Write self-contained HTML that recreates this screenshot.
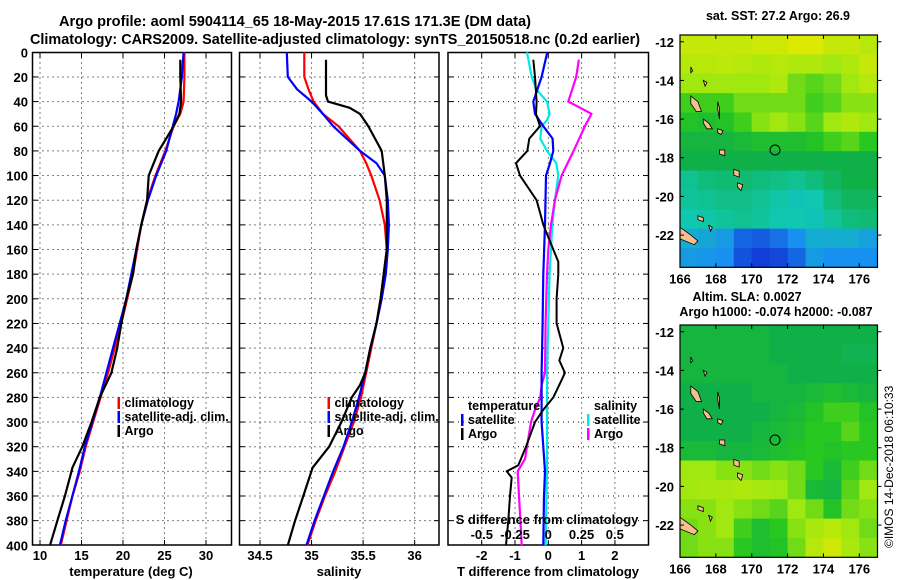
<!DOCTYPE html>
<html><head><meta charset="utf-8">
<style>
html,body{margin:0;padding:0;background:#fff;}
svg{display:block;font-family:"Liberation Sans",Arial,sans-serif;font-weight:bold;}
</style></head>
<body>
<svg id="fig" width="900" height="580" viewBox="0 0 900 580" xmlns="http://www.w3.org/2000/svg">
<rect x="0" y="0" width="900" height="580" fill="#fff"/>
<text x="295" y="26" text-anchor="middle" font-size="15" textLength="472" lengthAdjust="spacingAndGlyphs">Argo profile: aoml 5904114_65 18-May-2015 17.61S 171.3E (DM data)</text>
<text x="335" y="44" text-anchor="middle" font-size="15" textLength="610" lengthAdjust="spacingAndGlyphs">Climatology: CARS2009. Satellite-adjusted climatology: synTS_20150518.nc (0.2d earlier)</text>
<g id="plots"></g>
</svg>
<script>
// ---------- data ----------
const depthTick = [0,20,40,60,80,100,120,140,160,180,200,220,240,260,280,300,320,340,360,380,400];
const tempTicks = [10,15,20,25,30];
const salTicks = [34.5,35,35.5,36];
const tdiffTicks = [-2,-1,0,1,2];
const sdiffTicks = [-0.5,-0.25,0,0.25,0.5];
const sdiffLabels = ['-0.5','-0.25','0','0.25','0.5'];

const argoTDepth = [6,20,40,50,60,70,80,90,100,120,140,160,180,200,220,240,260,280,300,320,337,340,360,380,400];
const argoTemp  = [26.9,26.9,27.0,26.8,26.1,25.2,24.3,23.7,23.1,22.9,22.2,21.6,21.2,20.4,19.8,19.3,18.6,17.2,16.2,15.1,13.9,13.8,13.0,12.1,11.2];
const climDepth = [0,20,40,50,60,80,100,120,140,160,180,200,220,240,260,280,300,320,340,360,380,400];
const climTemp  = [27.4,27.4,27.3,26.9,26.1,25.1,23.9,22.9,22.2,21.7,21.2,20.5,19.8,19.0,18.2,17.3,16.4,15.5,14.8,13.9,13.2,12.5];
const satTemp   = [27.3,27.1,26.7,26.4,26.0,25.2,24.0,23.0,22.2,21.6,21.0,20.4,19.6,18.8,18.0,17.2,16.3,15.4,14.7,13.9,13.1,12.4];

const argoSDepth = [6,35,40,45,50,60,80,100,120,140,160,180,200,220,240,260,270,280,300,320,337,360,380,400];
const argoSal  = [35.14,35.14,35.16,35.37,35.47,35.55,35.68,35.71,35.73,35.73,35.73,35.70,35.67,35.63,35.57,35.52,35.47,35.39,35.29,35.17,35.01,34.92,34.84,34.77];
const climSDepth = [0,20,30,40,50,60,80,90,100,120,140,160,180,200,220,240,260,280,300,320,340,360,380,400];
const climSal  = [34.93,34.93,34.97,35.02,35.11,35.26,35.47,35.53,35.58,35.66,35.71,35.73,35.70,35.67,35.63,35.58,35.53,35.48,35.41,35.32,35.23,35.13,35.04,34.96];
const satSal   = [34.76,34.77,34.86,35.0,35.11,35.21,35.47,35.63,35.71,35.74,35.75,35.74,35.72,35.68,35.63,35.57,35.52,35.46,35.39,35.31,35.21,35.12,35.03,34.95];

const argoTdDepth = [6,20,40,50,60,70,80,90,100,120,130,140,160,170,180,200,220,240,250,260,266,280,290,300,320,335,340,345,360,380,400];
const argoTdiff = [-0.45,-0.4,-0.35,-0.37,-0.25,-0.57,-0.63,-0.97,-0.85,-0.35,-0.25,-0.15,0.15,0.3,0.3,0.25,0.25,0.45,0.33,0.5,0.4,0.15,-0.15,-0.4,-0.67,-0.9,-1.25,-1.1,-1.15,-1.2,-1.27];
const satTdDepth = [0,20,40,50,60,70,80,90,100,140,180,220,260,300,340,360,400];
const satTdiff = [-0.03,-0.2,-0.45,-0.4,-0.15,0.13,0.15,0.05,-0.07,-0.1,-0.15,-0.17,-0.2,-0.2,-0.1,-0.13,-0.15];
const satSdDepth = [0,20,30,40,50,55,60,70,80,90,100,120,140,180,220,260,300,340,400];
const satSdiff = [-0.16,-0.125,-0.09,-0.01,0.01,-0.01,-0.05,-0.06,-0.01,0.06,0.075,0.05,0.03,0.01,0,-0.01,-0.01,-0.01,-0.02];
const argoSdDepth = [6,20,40,45,50,60,80,100,120,140,160,180,220,260,270,280,290,300,320,330,340,360,380,400];
const argoSdiff = [0.23,0.21,0.15,0.24,0.325,0.275,0.19,0.1,0.05,0.02,0,-0.01,-0.02,-0.025,-0.05,-0.06,-0.1,-0.13,-0.16,-0.175,-0.23,-0.22,-0.21,-0.2];

const lonTicks = [166,168,170,172,174,176];
const latTicks = [-12,-14,-16,-18,-20,-22];
const sstGrid = [
 [4.5,4.5,4.5,4.5,4.6,4.6,4.8,4.8,4.5,4.5,4.3],
 [4.3,4.3,4.4,4.3,4.2,4.3,4.2,4.2,4.0,4.2,4.5],
 [4.0,4.0,4.0,4.0,4.0,4.2,3.8,3.7,3.8,4.0,4.3],
 [3.6,3.6,3.6,3.8,3.8,3.8,3.8,3.6,3.7,3.9,3.9],
 [3.4,3.3,3.4,3.6,3.9,4.0,3.9,3.7,4.0,4.2,4.0],
 [3.1,3.1,3.1,3.2,3.3,3.3,3.3,3.4,3.6,3.7,3.5],
 [3.0,3.0,3.0,3.0,3.0,3.0,3.0,3.0,3.0,3.0,3.0],
 [2.3,2.5,2.6,2.6,2.5,2.4,2.3,2.5,2.8,3.0,3.0],
 [2.2,2.3,2.4,2.4,2.3,2.1,1.9,2.0,2.5,2.8,2.8],
 [2.0,2.1,2.2,2.3,2.2,2.0,2.0,1.9,2.2,2.5,2.6],
 [1.5,1.4,1.2,0.6,0.5,0.7,1.0,1.5,1.5,1.5,1.3],
 [1.2,1.1,1.0,0.4,0.2,0.3,0.6,1.2,1.0,1.0,1.0]];
const slaGrid = [
 [3.1,3.1,3.1,3.1,3.1,3.0,3.0,3.0,3.0,3.0,3.0],
 [3.1,3.1,3.1,3.1,3.1,3.0,3.0,3.0,3.0,2.9,2.9],
 [3.1,3.1,3.1,3.1,3.1,3.1,3.0,3.0,3.0,3.0,3.0],
 [3.0,3.0,3.0,3.0,3.1,3.1,3.1,3.2,3.3,3.2,3.1],
 [3.0,3.0,3.0,3.0,3.0,3.1,3.2,3.4,3.6,3.6,3.4],
 [3.0,3.0,3.0,3.0,3.1,3.2,3.3,3.5,3.5,3.7,3.5],
 [3.2,3.2,3.1,3.1,3.2,3.3,3.4,3.5,3.4,3.5,3.5],
 [4.0,4.0,3.9,3.9,3.8,3.9,3.8,3.5,3.2,3.6,3.8],
 [4.0,4.1,4.1,4.2,4.1,4.0,3.8,3.2,3.1,3.7,4.0],
 [3.9,3.9,4.0,3.9,3.8,3.7,4.0,3.8,3.4,3.8,3.9],
 [3.8,3.9,4.0,3.6,3.3,3.5,3.9,4.1,4.3,4.0,3.8],
 [3.8,3.9,3.9,3.5,3.3,3.4,3.8,4.3,4.6,4.1,3.9]];
const profileLon = 171.3, profileLat = -17.6;

// ---------- helpers ----------
const NS='http://www.w3.org/2000/svg';
const root=document.getElementById('plots');
function mk(tag,attrs,parent){const e=document.createElementNS(NS,tag);for(const k in attrs)e.setAttribute(k,attrs[k]);(parent||root).appendChild(e);return e;}
function txt(s,x,y,anchor,size,parent){const t=mk('text',{x:x,y:y,'text-anchor':anchor,'font-size':size},parent);t.textContent=s;return t;}

const yTop=52.5,yBot=545;
const yD=d=>52.3+d*1.2325;
const xT=v=>40+(v-10)*8.3;
const xS=v=>260+(v-34.5)*103.1;
const xTd=v=>548.3+v*33.3;
const xSd=v=>548.3+v*133;

function frame(x0,x1,gridXs,name){
  const g=mk('g',{});
  
  
  depthTick.forEach(d=>{
    if(d===0||d===400)return;
    const l=mk('line',{x1:x0,x2:x1,y1:yD(d),y2:yD(d),stroke:'#000','stroke-width':1,'stroke-dasharray':'1,4'},g);
    
    
    mk('line',{x1:x0,x2:x0+5,y1:yD(d),y2:yD(d),stroke:'#000'},g);
    mk('line',{x1:x1-5,x2:x1,y1:yD(d),y2:yD(d),stroke:'#000'},g);
  });
  gridXs.forEach(x=>{
    const l=mk('line',{x1:x,x2:x,y1:yTop,y2:yBot,stroke:'#000','stroke-width':1,'stroke-dasharray':'1,4'},g);
    
    
    mk('line',{x1:x,x2:x,y1:yTop,y2:yTop+5,stroke:'#000'},g);
    mk('line',{x1:x,x2:x,y1:yBot-5,y2:yBot,stroke:'#000'},g);
  });
  const r=mk('rect',{x:x0,y:yTop,width:x1-x0,height:yBot-yTop,fill:'none',stroke:'#000','stroke-width':1.5},g);
  
  
  return g;
}
function series(xs,ds,xf,color,name,w){
  const pts=xs.map((v,i)=>xf(v).toFixed(1)+','+yD(ds[i]).toFixed(1)).join(' ');
  const p=mk('polyline',{points:pts,fill:'none',stroke:color,'stroke-width':w||2.2,'stroke-linejoin':'round'});
  
  
}

// Panel 1 temperature
frame(32.5,231.5,tempTicks.map(xT),'temperature-panel');
depthTick.forEach(d=>{const t=txt(String(d),28,yD(d)+5,'end',13);});
tempTicks.forEach(v=>{const t=txt(String(v),xT(v),560,'middle',13);});
{const t=txt('temperature (deg C)',131,576,'middle',13);}
series(climTemp,climDepth,xT,'#f00','temp-climatology-line');
series(satTemp,climDepth,xT,'#00f','temp-satellite-line');
series(argoTemp,argoTDepth,xT,'#000','temp-argo-line');

// Panel 2 salinity
frame(239.5,439,salTicks.map(xS),'salinity-panel');
salTicks.forEach(v=>{const t=txt(String(v),xS(v),560,'middle',13);});
{const t=txt('salinity',339,576,'middle',13);}
series(climSal,climSDepth,xS,'#f00','sal-climatology-line');
series(satSal,climSDepth,xS,'#00f','sal-satellite-line');
series(argoSal,argoSDepth,xS,'#000','sal-argo-line');

// legends for panel 1 and 2
function legend(x,items,name){
  const g=mk('g',{});
  
  
  items.forEach((it,i)=>{
    const y=407+i*14;
    mk('rect',{x:x,y:y-10,width:2.5,height:12,fill:it[1]},g);
    const t=txt(it[0],x+7,y,'start',12.5,g);
    
    
  });
}
legend(117.5,[['climatology','#f00'],['satellite-adj. clim.','#00f'],['Argo','#000']],'temp-legend');
legend(327.5,[['climatology','#f00'],['satellite-adj. clim.','#00f'],['Argo','#000']],'salinity-legend');

// Panel 3 differences
frame(448,648.5,tdiffTicks.map(xTd),'difference-panel');
tdiffTicks.forEach(v=>{const t=txt(String(v),xTd(v),560,'middle',13);});
{const t=txt('T difference from climatology',548,576,'middle',13);}
series(satSdiff,satSdDepth,xSd,'#00e8e8','sdiff-satellite-line');
series(argoSdiff,argoSdDepth,xSd,'#f0f','sdiff-argo-line');
series(satTdiff,satTdDepth,xTd,'#00f','tdiff-satellite-line');
series(argoTdiff,argoTdDepth,xTd,'#000','tdiff-argo-line',2);
sdiffTicks.forEach((v,i)=>{const t=txt(sdiffLabels[i],xSd(v),539,'middle',13);});
{const t=txt('S difference from climatology',547,524,'middle',13);}
{
  const g=mk('g',{});
  
  
  txt('temperature',468,410,'start',12.5,g);
  txt('salinity',594,410,'start',12.5,g);
  [['satellite','#00f',468,461],['Argo','#000',468,461]].forEach((it,i)=>{
    const y=424+i*14;mk('rect',{x:it[3],y:y-10,width:2.5,height:12,fill:it[1]},g);
    const t=txt(it[0],it[2],y,'start',12.5,g);});
  [['satellite','#00e8e8'],['Argo','#f0f']].forEach((it,i)=>{
    const y=424+i*14;mk('rect',{x:587,y:y-10,width:2.5,height:12,fill:it[1]},g);
    const t=txt(it[0],594,y,'start',12.5,g);});
}

// ---------- maps ----------
const stops=[[0,[16,40,208]],[1,[24,144,240]],[2,[16,200,176]],[3,[16,176,72]],[3.5,[40,200,32]],[4,[160,232,16]],[5,[236,232,0]]];
function cmap(v){
  for(let i=0;i<stops.length-1;i++){const a=stops[i],b=stops[i+1];
    if(v<=b[0]||i===stops.length-2){const t=Math.max(0,Math.min(1,(v-a[0])/(b[0]-a[0])));
      return 'rgb('+a[1].map((c,k)=>Math.round(c+(b[1][k]-c)*t)).join(',')+')';}}
}
const islands=[
 [[166.6,-14.8],[167.0,-15.1],[167.2,-15.6],[166.9,-15.6],[166.6,-15.2]],
 [[167.3,-16.0],[167.6,-16.2],[167.8,-16.5],[167.5,-16.5],[167.3,-16.2]],
 [[168.1,-16.5],[168.4,-16.6],[168.3,-16.8],[168.1,-16.7]],
 [[168.2,-17.6],[168.5,-17.6],[168.5,-17.9],[168.2,-17.8]],
 [[169.0,-18.6],[169.3,-18.7],[169.3,-19.0],[169.0,-18.9]],
 [[169.2,-19.3],[169.5,-19.4],[169.4,-19.7],[169.2,-19.5]],
 [[167.0,-21.0],[167.3,-21.1],[167.3,-21.3],[167.0,-21.2]],
 [[167.6,-21.5],[167.8,-21.6],[167.7,-21.8]],
 [[166.0,-21.6],[166.6,-22.0],[167.0,-22.3],[166.8,-22.5],[166.0,-22.2]],
 [[166.6,-13.3],[166.7,-13.5],[166.6,-13.6]],
 [[167.3,-14.0],[167.5,-14.1],[167.4,-14.3]],
 [[168.1,-15.1],[168.2,-15.4],[168.2,-16.0],[168.1,-15.5]]
];
function map(y0,grid,name,title1,title2,t1x,t2x,t1y,t2y){
  const x0=680,x1=877.5,y1=y0+232.3;
  const lonX=l=>680+(l-166)*17.93;
  const latY=l=>y0+(-11.65-l)*19.33;
  const g=mk('g',{});
  
  
  const rows=grid.length,cols=grid[0].length;
  const latStep=(23.67-11.65)/rows;
  grid.forEach((row,r)=>row.forEach((v,c)=>{
    const xa=lonX(166+c), xb=Math.min(x1,lonX(167+c)+(c===cols-1?40:0));
    const ya=latY(-11.65-r*latStep), yb=latY(-11.65-(r+1)*latStep);
    const cell=mk('rect',{x:xa,y:ya,width:xb-xa+0.5,height:yb-ya+0.5,fill:cmap(v)},g);
    
    
  }));
  mk('rect',{x:x1,y:y0,width:20,height:y1-y0,fill:'#fff'},g);
  islands.forEach(is=>{
    const p=mk('polygon',{points:is.map(q=>lonX(q[0]).toFixed(1)+','+latY(q[1]).toFixed(1)).join(' '),fill:'#f5c08c',stroke:'#000','stroke-width':0.8},g);
    
    
  });
  const c=mk('circle',{cx:lonX(profileLon),cy:latY(profileLat),r:5,fill:'none',stroke:'#000','stroke-width':1},g);
  
  
  mk('rect',{x:x0,y:y0,width:x1-x0,height:y1-y0,fill:'none',stroke:'#000','stroke-width':1.2},g);
  lonTicks.forEach(l=>{const x=lonX(l);
    mk('line',{x1:x,x2:x,y1:y1,y2:y1-4,stroke:'#000'},g);mk('line',{x1:x,x2:x,y1:y0,y2:y0+4,stroke:'#000'},g);
    const t=txt(String(l),x,y1+16,'middle',13,g);});
  latTicks.forEach(l=>{const y=latY(l);
    mk('line',{x1:x0,x2:x0+4,y1:y,y2:y,stroke:'#000'},g);mk('line',{x1:x1,x2:x1+4,y1:y,y2:y,stroke:'#000'},g);
    const t=txt(String(l),674,y+5,'end',13,g);});
  const a=txt(title1,t1x,t1y,'middle',12.5,g);
  if(title2){const b=txt(title2,t2x,t2y,'middle',12.5,g);}
}
map(35,sstGrid,'sst-map','sat. SST: 27.2 Argo: 26.9',null,778,0,20,0);
map(325,slaGrid,'sla-map','Altim. SLA: 0.0027','Argo h1000: -0.074 h2000: -0.087',747,776,301,316);
{const t=mk('text',{x:893,y:548,'font-size':12,'font-weight':'normal',transform:'rotate(-90 893 548)'});t.textContent='\u00a9IMOS 14-Dec-2018 06:10:33';

}
</script>
</body></html>
